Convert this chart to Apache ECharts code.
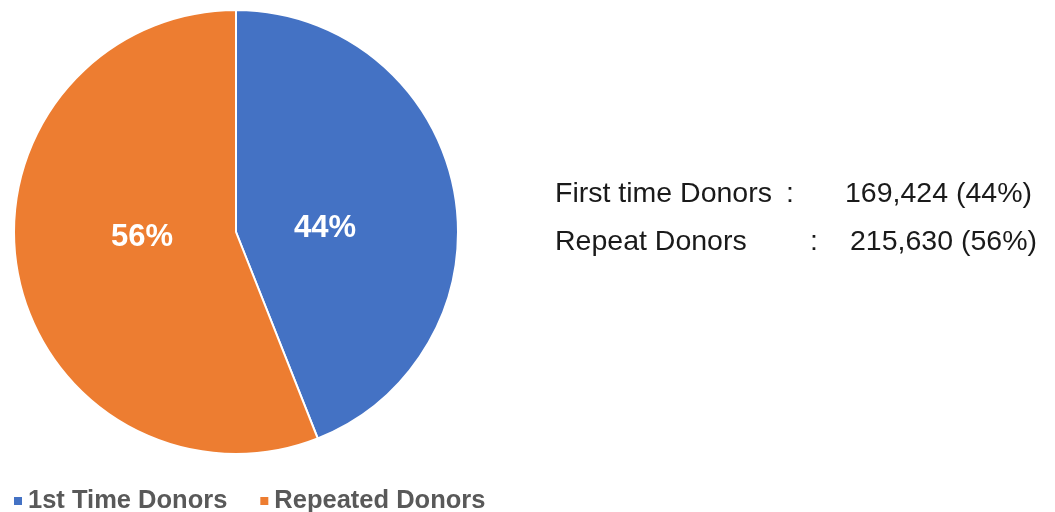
<!DOCTYPE html>
<html><head><meta charset="utf-8">
<script src="https://cdn.jsdelivr.net/npm/echarts@6/dist/echarts.min.js"></script>
<style>html,body{margin:0;padding:0;background:#fff}#c{width:1055px;height:512px}</style>
</head><body><div id="c"></div>
<script>
var categories = ['1st Time Donors', 'Repeated Donors'];
var values = [169424, 215630];
var colors = ['#4472C4', '#ED7D31'];
var summaryLabels = ['First time Donors', 'Repeat Donors'];
var summaryValues = ['169,424 (44%)', '215,630 (56%)'];
var labelOffsets = [[-23, 18], [18, -16]];

var chart = echarts.init(document.getElementById('c'));
var txt = {fontFamily: '"Liberation Sans", Arial, sans-serif', fontSize: 28.5, fill: '#1a1a1a', verticalAlign: 'middle'};
function t(x, y, s) { return {type: 'text', x: x, y: y, style: Object.assign({text: s}, txt)}; }
chart.setOption({
  animation: false,
  legend: {
    left: 12, top: 488, padding: 0, itemWidth: 10, itemHeight: 10, itemGap: 31, icon: 'rect',
    textStyle: {fontFamily: '"Liberation Sans", Arial, sans-serif', fontSize: 25.5, fontWeight: 'bold', color: '#595959'},
    data: categories
  },
  graphic: [
    t(555, 194.5, summaryLabels[0]), t(786, 194.5, ':'), t(845, 194.5, summaryValues[0]),
    t(555, 242.5, summaryLabels[1]), t(810, 242.5, ':'), t(850, 242.5, summaryValues[1])
  ],
  series: [{
    type: 'pie', center: [236, 232], radius: 222, startAngle: 90, clockwise: true,
    itemStyle: {borderColor: '#fff', borderWidth: 2},
    label: {position: 'inside', formatter: function(p){return Math.round(p.percent) + '%';},
      fontFamily: '"Liberation Sans", Arial, sans-serif', fontSize: 31, fontWeight: 'bold', color: '#fff'},
    emphasis: {disabled: true},
    data: categories.map(function(c, i){return {name: c, value: values[i], itemStyle: {color: colors[i]}, label: {offset: labelOffsets[i]}};})
  }]
});
</script></body></html>
